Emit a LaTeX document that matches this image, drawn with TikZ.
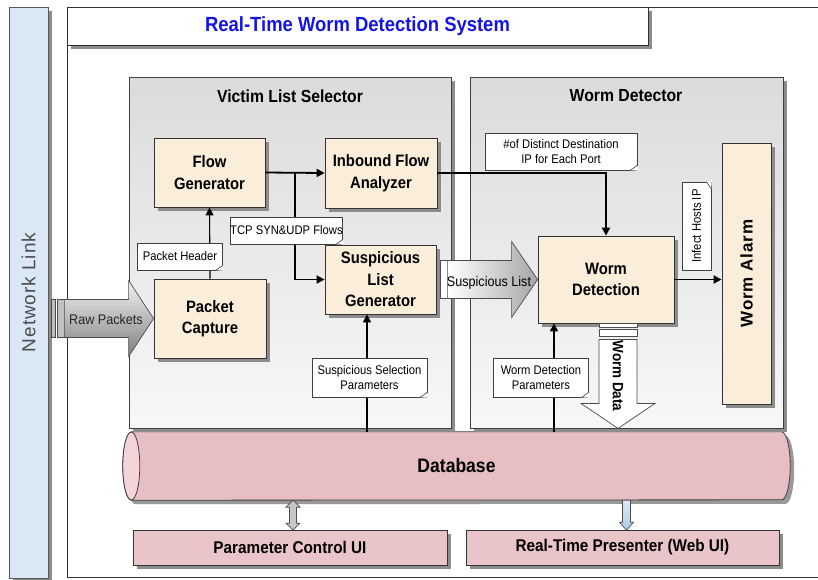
\documentclass[tikz,border=0pt]{standalone}
\usepackage{fontspec}
\setmainfont{Liberation Sans}[FakeStretch=0.9]
\newfontfamily\widefont{Liberation Sans}[LetterSpace=5.0]
\usetikzlibrary{positioning,calc,shadows,arrows.meta,backgrounds}
\definecolor{boxfill}{HTML}{FAEEDA}
\definecolor{dbfill}{HTML}{E6BEC3}
\definecolor{dbend}{HTML}{F4D4D7}
\definecolor{uifill}{HTML}{E9C5C9}
\definecolor{linkfill}{HTML}{DAE7F4}
\definecolor{titleblue}{HTML}{1414E6}
\definecolor{presblue}{HTML}{A9CBEA}
\newcommand{\fsz}[2]{\fontsize{#1}{#2}\selectfont}

\begin{document}
\begin{tikzpicture}[x=1pt,y=-1pt,
  shad/.style={drop shadow={shadow xshift=4pt,shadow yshift=-4pt,fill=black!45,opacity=1}},
  sysframe/.style={draw=black!80,line width=0.9pt,inner sep=0pt},
  panel/.style={draw=black!75,line width=0.9pt,top color=black!14,bottom color=black!3,inner sep=0pt,shad},
  ptitle/.style={font=\fsz{17.5}{20}\bfseries},
  proc/.style={draw=black!80,fill=boxfill,line width=0.8pt,align=center,inner sep=2pt,font=\fsz{16.5}{21.5}\bfseries,shad},
  uibox/.style={proc,fill=uifill,font=\fsz{17}{20}\bfseries},
  note/.style={draw=black!75,fill=white,line width=0.6pt,align=center,inner sep=0pt,font=\fsz{12.5}{15}},
  conn/.style={draw=black,line width=1.8pt,-{Triangle[length=8pt,width=8pt]}},
  lconn/.style={conn,line width=1.1pt},
  blk/.style={draw=black!70,line width=0.7pt},
  bar/.style={blk,fill=black!25}]
  \useasboundingbox (0,0) rectangle (818,579);
  % outer frame, network link and title
  \node[sysframe,minimum width=758pt,minimum height=570pt] (system) at (446,292) {};
  \node[draw=black!65,fill=linkfill,line width=0.8pt,minimum width=39pt,minimum height=571pt,inner sep=0pt,shad,
        font=\widefont\fsz{19}{22},text=black!70] (netlink) at (28.5,292.5) {\rotatebox{90}{Network Link}};
  \node[sysframe,fill=white,shad,minimum width=581pt,minimum height=38pt,font=\fsz{20.5}{24}\bfseries,text=titleblue]
        (title) at (357.5,26) {Real-Time Worm Detection System};
  % the two subsystems
  \node[panel,minimum width=322pt,minimum height=351pt] (vls) at (290,252.5) {};
  \node[panel,minimum width=313pt,minimum height=351pt] (wdp) at (626.5,252.5) {};
  \node[ptitle] (vlstitle) at (290,96) {Victim List Selector};
  \node[ptitle] (wdptitle) at (626,96) {Worm Detector};
  % processing blocks
  \node[proc,minimum width=111pt,minimum height=69pt] (flowgen) at (209.5,172.5) {Flow\\Generator};
  \node[proc,minimum width=112pt,minimum height=70pt] (inbound) at (381,173) {Inbound Flow\\Analyzer};
  \node[proc,minimum width=112pt,minimum height=79pt] (capture) at (210,318.5) {Packet\\Capture};
  \node[proc,minimum width=111pt,minimum height=69pt] (suspgen) at (380.5,279.5) {Suspicious\\List\\Generator};
  \node[proc,minimum width=136pt,minimum height=87pt] (wdet) at (606,279.5) {Worm\\Detection};
  \node[proc,minimum width=49pt,minimum height=261pt] (alarm) at (746.5,273.5) {\rotatebox{90}{\widefont\fsz{17}{20}\bfseries Worm Alarm}};
  % storage and user interfaces
  \node[font=\fsz{19.5}{22}\bfseries,minimum width=667pt,minimum height=68pt,inner sep=0pt] (db) at (456.5,466) {Database};
  \node[uibox,minimum width=314pt,minimum height=35pt] (pcui) at (290,547.5) {Parameter Control UI};
  \node[uibox,minimum width=313pt,minimum height=35pt] (rtp) at (622.5,547.5) {Real-Time Presenter (Web UI)};
  \begin{scope}[on background layer]
    \fill[black!40,transform canvas={shift={(4pt,-4pt)}}] ($(db.north west)+(8.5,0)$) -- ($(db.north east)+(-8.5,0)$)
      arc[start angle=90,end angle=-90,x radius=8.5pt,y radius=34pt] -- ($(db.south west)+(8.5,0)$)
      arc[start angle=270,end angle=90,x radius=8.5pt,y radius=34pt] -- cycle;
    \filldraw[draw=black!75,line width=0.8pt,fill=dbfill] ($(db.north west)+(8.5,0)$) -- ($(db.north east)+(-8.5,0)$)
      arc[start angle=90,end angle=-90,x radius=8.5pt,y radius=34pt] -- ($(db.south west)+(8.5,0)$)
      arc[start angle=270,end angle=90,x radius=8.5pt,y radius=34pt] -- cycle;
    \filldraw[draw=black!75,line width=0.8pt,fill=dbend] ($(db.west)+(8.5,0)$) ellipse[x radius=8.5pt,y radius=34pt];
  \end{scope}
  % data flow
  \draw[lconn] (capture.north) -- (flowgen.south);
  \draw[conn] (flowgen.east) -- (inbound.west);
  \coordinate (split) at ($(flowgen.east)!0.5!(inbound.west)$);
  \draw[conn] (split) |- (suspgen.west);
  \draw[conn] (inbound.east) -| (wdet.north);
  \draw[conn] (wdet.east) -- (wdet.east -| alarm.west);
  \coordinate (sspx) at ([xshift=-13.5pt]suspgen.south);
  \coordinate (wdpx) at ([xshift=-52pt]wdet.south);
  \draw[lconn,line width=1.5pt] (sspx |- db.north) -- (sspx);
  \draw[lconn,line width=1.5pt] (wdpx |- db.north) -- (wdpx);
  % notes
  \node[note,minimum width=85pt,minimum height=27pt] (nhdr) at (180,256.5) {Packet Header};
  \node[note,minimum width=111pt,minimum height=27pt] (ntcp) at (286.5,230.5) {TCP SYN\&UDP Flows};
  \node[note,minimum width=152pt,minimum height=37pt] (nport) at (561,151.5) {\#of Distinct Destination\\IP for Each Port};
  \node[note,rotate=90,minimum width=88pt,minimum height=29pt] (ninf) at (696.5,226) {Infect Hosts IP};
  \node[note,minimum width=115pt,minimum height=39pt] (nssp) at (369.5,377.5) {Suspicious Selection\\Parameters};
  \node[note,minimum width=95pt,minimum height=39pt] (nwdp) at (541,377.5) {Worm Detection\\Parameters};
  \foreach \n in {nhdr,ntcp,nport,ninf,nssp,nwdp} {
    \fill[white] ($(\n.south east)!7pt!(\n.south west)$) -- ($(\n.south east)!-1.5pt!(\n.center)$)
      -- ($(\n.south east)!5pt!(\n.north east)$) -- cycle;
    \draw[black!75,line width=0.6pt] ($(\n.south east)!7pt!(\n.south west)$) -- ($(\n.south east)!5pt!(\n.north east)$);
  }
  % raw packets
  \draw[bar] ($(capture.west)+(-102,-19)$) rectangle ($(capture.west)+(-98,19)$);
  \draw[bar] ($(capture.west)+(-96,-19)$) rectangle ($(capture.west)+(-89,19)$);
  \draw[blk,top color=black!5,bottom color=black!50] (capture.west) ++(-89,-19) -- ++(64,0) -- ++(0,-19)
    -- (capture.west) -- ++(-25,38) -- ++(0,-19) -- ++(-64,0) -- cycle;
  \node[font=\fsz{14}{16},text=black!85] (rawlbl) at (106,319) {Raw Packets};
  % suspicious list
  \draw[bar,fill=white] ($(wdet.west)+(-97,-19)$) rectangle ($(wdet.west)+(-90,19)$);
  \draw[blk,left color=white,right color=black!35] (wdet.west) ++(-90,-19) -- ++(64,0) -- ++(0,-19)
    -- (wdet.west) -- ++(-26,38) -- ++(0,-19) -- ++(-64,0) -- cycle;
  \node[font=\fsz{14}{16}] (sllbl) at (489,283) {Suspicious List};
  % worm data
  \coordinate (wdtip) at ($(wdet.south)+(12,105)$);
  \draw[bar,fill=white] ($(wdet.south)+(-7,0)$) rectangle ($(wdet.south)+(31,4)$);
  \draw[bar,fill=white] ($(wdet.south)+(-7,6)$) rectangle ($(wdet.south)+(31,13)$);
  \draw[blk,fill=white] (wdtip) -- ++(-37,-25) -- ++(18,0) -- ++(0,-64) -- ++(38,0) -- ++(0,64) -- ++(18,0) -- cycle;
  \node[rotate=-90,font=\fsz{15}{17}\bfseries] (wdlbl) at (618,376) {Worm Data};
  % database links
  \draw[blk,fill=black!22] ($(db.south -| pcui.north)+(3,0)$) -- ++(7,7) -- ++(-3.5,0) -- ++(0,16) -- ++(3.5,0)
    -- ++(-7,7) -- ++(-7,-7) -- ++(3.5,0) -- ++(0,-16) -- ++(-3.5,0) -- cycle;
  \draw[blk,top color=presblue!40!white,bottom color=presblue] (db.south -| rtp.north) -- ++(8,0) -- ++(0,22)
    -- ++(3,0) -- ++(-7,8) -- ++(-7,-8) -- ++(3,0) -- cycle;
\end{tikzpicture}
\end{document}
